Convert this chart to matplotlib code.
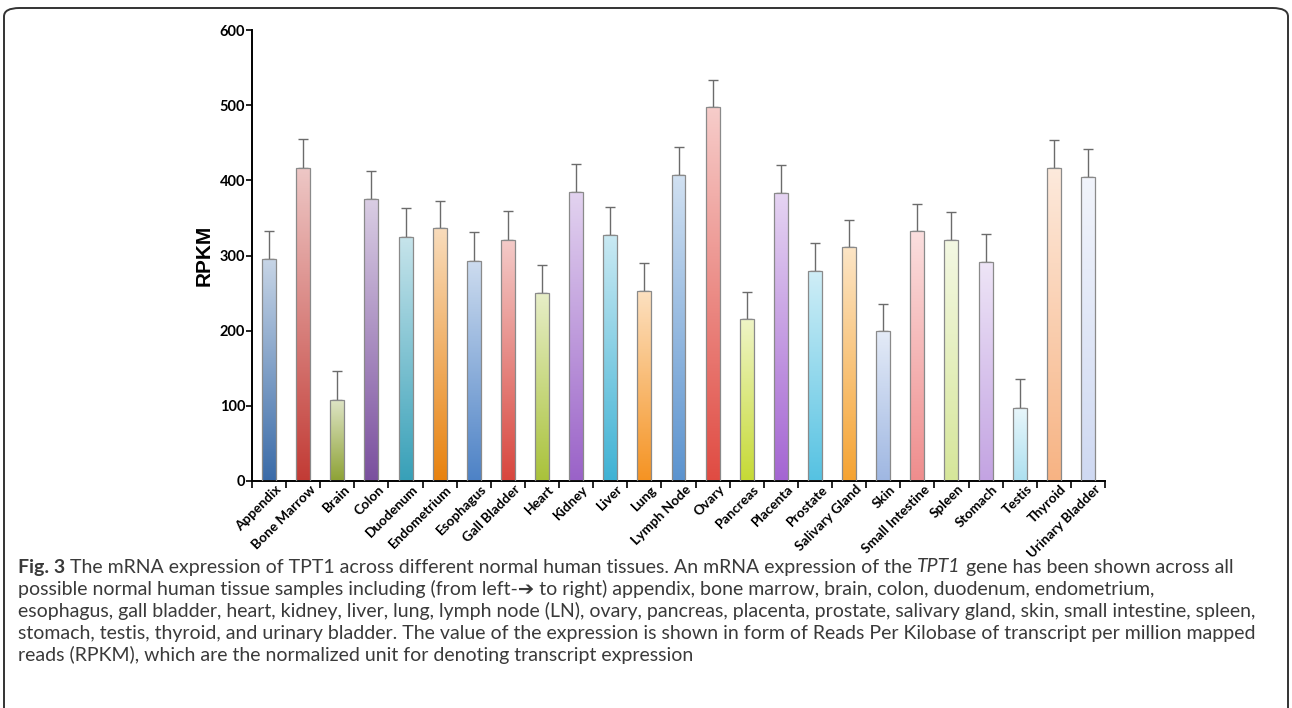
import numpy as np
import matplotlib
matplotlib.use("Agg")
import matplotlib.pyplot as plt
from matplotlib.colors import LinearSegmentedColormap, to_rgb
from matplotlib.patches import FancyBboxPatch
from matplotlib.transforms import ScaledTranslation

# data
tissues = ["Appendix", "Bone Marrow", "Brain", "Colon", "Duodenum", "Endometrium",
           "Esophagus", "Gall Bladder", "Heart", "Kidney", "Liver", "Lung",
           "Lymph Node", "Ovary", "Pancreas", "Placenta", "Prostate", "Salivary Gland",
           "Skin", "Small Intestine", "Spleen", "Stomach", "Testis", "Thyroid",
           "Urinary Bladder"]
rpkm = [296, 417, 108, 375, 325, 336, 293, 321, 250, 384, 327, 253,
        407, 497, 215, 383, 279, 311, 199, 333, 320, 292, 97, 417, 405]
err = [37, 38, 38, 37, 38, 36, 38, 38, 38, 38, 37, 37,
       37, 36, 37, 37, 37, 36, 37, 36, 38, 37, 39, 37, 37]
yticks = [0, 100, 200, 300, 400, 500, 600]

# base (bottom) colours of each bar gradient
bar_colors = ["#3a6ba8", "#c23b35", "#8da235", "#7a4f9e", "#37a0b8", "#e8820e",
              "#4d82c6", "#d8463e", "#a9c23a", "#9a62c8", "#3fb2d4", "#f59322",
              "#5b93cf", "#e04b42", "#c6da35", "#a465d2", "#55c2e2", "#f5a332",
              "#9fb7e2", "#ef8d8d", "#d6e69a", "#c3a3e2", "#ade0f0", "#f7b383",
              "#cfd9f2"]

caption = [
    [("Fig. 3", "bold", "normal"),
     (" The mRNA expression of TPT1 across different normal human tissues. An mRNA expression of the ", "normal", "normal"),
     ("TPT1", "normal", "italic"),
     (" gene has been shown across all", "normal", "normal")],
    [("possible normal human tissue samples including (from left-\u2794 to right) appendix, bone marrow, brain, colon, duodenum, endometrium,", "normal", "normal")],
    [("esophagus, gall bladder, heart, kidney, liver, lung, lymph node (LN), ovary, pancreas, placenta, prostate, salivary gland, skin, small intestine, spleen,", "normal", "normal")],
    [("stomach, testis, thyroid, and urinary bladder. The value of the expression is shown in form of Reads Per Kilobase of transcript per million mapped", "normal", "normal")],
    [("reads (RPKM), which are the normalized unit for denoting transcript expression", "normal", "normal")],
]

W, H = 1292, 708
fig = plt.figure(figsize=(W / 100, H / 100), dpi=100)
ax = fig.add_axes([252 / W, 1 - 481 / H, 853 / W, 451 / H])

x = np.arange(len(tissues))
bars = ax.bar(x, rpkm, width=0.41, color="none", edgecolor="#8a8a8a",
              linewidth=0.9, zorder=3)
grad = np.linspace(1, 0, 256)[:, None]
for b, c in zip(bars, bar_colors):
    base = np.array(to_rgb(c))
    light = base + (1 - base) * 0.72
    cmap = LinearSegmentedColormap.from_list("g", [light, base])
    im = ax.imshow(grad, cmap=cmap, aspect="auto", origin="lower",
                   extent=[b.get_x(), b.get_x() + b.get_width(), 0, b.get_height()],
                   zorder=2, vmin=0, vmax=1)
    im.set_clip_path(b)

ax.errorbar(x, rpkm, yerr=[np.zeros(len(err)), err], fmt="none", ecolor="#6b6b6b",
            elinewidth=1, capsize=3.5, capthick=1, zorder=1)

ax.set_xlim(-0.5, len(tissues) - 0.5)
ax.set_ylim(0, 600)
ax.set_yticks(yticks)
ax.set_yticklabels([str(v) for v in yticks], fontfamily="Lato", fontweight="bold",
                   fontsize=10.5)
ax.set_xticks(np.arange(len(tissues) + 1) - 0.5)
ax.set_xticklabels([])
ax.tick_params(axis="x", length=5, width=1.2)
ax.tick_params(axis="y", length=4, width=1.2, pad=1)

# rotated category labels, shifted a little right of each bar
shift = ScaledTranslation(6 / 100, -2 / 100, fig.dpi_scale_trans)
for xi, name in zip(x, tissues):
    ax.text(xi, 0, name, transform=ax.get_xaxis_transform() + shift,
            rotation=45, rotation_mode="anchor", ha="right", va="top",
            fontfamily="Lato", fontweight="bold", fontsize=9.8)

for s in ["top", "right"]:
    ax.spines[s].set_visible(False)
for s in ["left", "bottom"]:
    ax.spines[s].set_linewidth(1.4)
ax.set_ylabel("RPKM", fontfamily="Liberation Sans", fontweight="bold", fontsize=15)
ax.yaxis.set_label_coords(-38 / 853, 0.5)

# caption, drawn piece by piece
fig.canvas.draw()
r = fig.canvas.get_renderer()
y0 = 567
for i, line in enumerate(caption):
    xpos = 18
    for txt, wt, st in line:
        t = fig.text(xpos / W, 1 - (y0 + i * 22) / H, txt, fontsize=14,
                     fontweight=wt, fontstyle=st, color="#3a3a3a",
                     family=["Lato", "DejaVu Sans"], va="center", ha="left")
        xpos = t.get_window_extent(renderer=r).x1

# rounded frame, open at the bottom
frame = FancyBboxPatch((4 / W, -0.1), 1284 / W, 1.1 - 8 / H,
                       boxstyle="round,pad=0,rounding_size=0.012",
                       transform=fig.transFigure, fill=False,
                       edgecolor="#333333", linewidth=1.4)
fig.patches.append(frame)

fig.savefig("out.png", dpi=100)
